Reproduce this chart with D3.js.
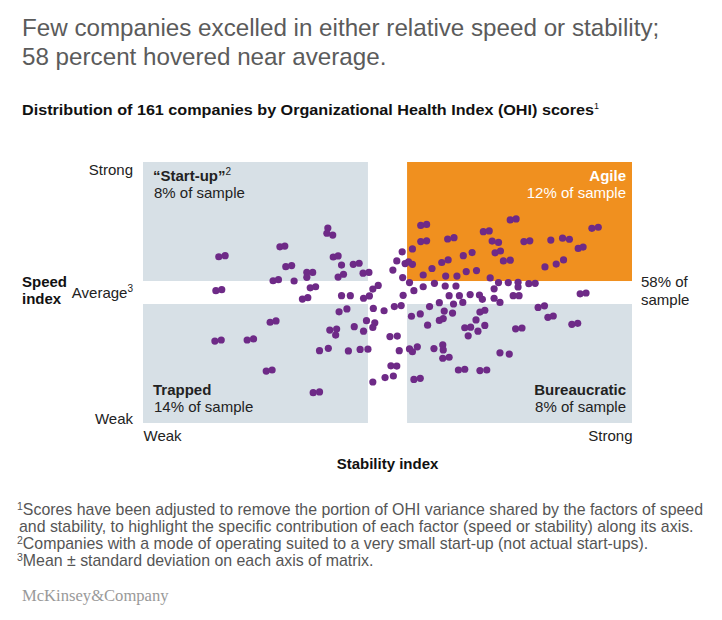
<!DOCTYPE html>
<html>
<head>
<meta charset="utf-8">
<script src="https://cdn.jsdelivr.net/npm/d3@7"></script>
<style>
  body { margin: 0; background: #fff; }
  svg { display: block; font-family: "Liberation Sans", Arial, sans-serif; }
</style>
</head>
<body>
<div id="chart"></div>
<script>
// Stability index (x) and speed index (y) per dot, 0-100 scale, 50 = average
var stability = [37.8,37.6,38.8,28.0,29.0,15.5,16.8,38.9,39.9,40.6,43.0,44.2,29.2,30.4,33.5,34.7,33.5,39.9,41.0,45.0,46.2,26.6,27.7,30.9,
  14.9,16.1,34.2,35.3,47.0,48.1,32.6,33.7,40.6,42.4,45.1,46.3,
  26.0,27.2,40.1,41.7,47.1,49.3,45.7,47.4,47.0,43.2,45.1,38.2,39.6,39.4,14.7,16.0,21.3,22.6,36.1,37.9,42.0,44.4,46.0,25.2,26.4,34.8,36.1,
  50.5,52.0,52.4,50.7,51.9,49.5,51.2,47.0,51.4,52.8,53.2,
  53.0,51.9,53.6,54.3,55.1,55.1,51.1,53.1,54.5,55.4,57.3,57.3,
  56.8,58.0,56.8,58.0,62.3,63.6,69.6,70.8,75.1,76.3,71.4,72.7,77.9,79.1,83.4,85.8,87.2,91.8,93.1,89.0,90.0,
  59.1,61.1,62.4,65.5,67.3,72.0,73.1,73.7,75.1,82.2,84.5,86.0,61.9,64.2,66.1,68.2,71.0,
  59.6,61.8,64.0,72.7,74.7,76.7,76.7,78.9,80.2,71.8,89.4,90.6,62.6,64.7,66.9,68.8,69.4,71.8,73.0,75.7,76.9,60.6,63.5,65.4,
  56.7,58.6,54.9,61.6,63.3,60.6,61.4,68.9,69.9,80.8,82.1,82.8,83.9,58.2,68.1,65.8,67.0,68.5,69.9,66.5,
  76.2,77.5,87.7,88.9,54.5,55.1,56.1,59.5,61.3,61.4,61.3,62.6,73.0,74.9,64.5,65.8,68.9,70.3,55.4,56.7];

var speed = [74.7,72.7,72.0,67.5,67.8,63.7,64.1,63.6,64.0,60.5,60.8,61.2,59.9,60.3,57.7,57.7,55.8,55.9,57.0,57.4,57.7,54.5,54.9,54.4,
  50.7,51.1,51.8,52.2,51.3,52.7,47.5,48.0,48.8,48.8,47.8,48.7,
  38.6,39.1,42.6,43.7,43.9,43.0,39.2,38.4,36.6,36.9,35.2,35.6,36.0,33.7,31.4,31.8,31.8,32.2,27.7,28.6,27.6,28.2,28.3,19.9,20.3,11.6,11.9,
  33.1,33.3,27.7,21.9,21.8,17.4,18.0,15.7,44.6,45.0,48.9,
  65.6,62.1,61.1,61.7,60.8,66.7,58.6,55.7,53.8,50.7,52.2,56.7,
  75.7,76.1,69.5,69.8,70.5,71.0,73.3,73.6,77.8,78.2,69.7,69.2,69.5,69.8,70.1,70.8,70.4,74.6,75.0,66.9,67.4,
  59.2,61.5,62.5,64.1,65.3,65.2,65.9,62.1,62.4,59.8,60.9,62.5,56.3,56.3,58.0,58.4,55.6,
  53.5,52.5,52.5,53.8,53.8,53.9,52.1,53.4,53.5,51.4,49.5,49.8,48.8,48.8,49.2,49.0,47.4,47.8,46.2,48.8,48.8,46.1,45.6,46.2,
  41.8,44.6,40.9,42.9,42.1,39.3,40.0,42.5,43.2,44.3,44.9,40.5,41.0,37.5,39.5,36.5,36.7,35.2,37.4,33.4,
  36.1,36.4,37.8,38.2,28.4,27.3,29.2,28.5,29.9,28.0,24.8,25.2,26.9,26.4,20.3,20.6,20.1,20.3,16.7,17.1];

// Quadrants: name, footnote mark, share, and extent on both axes
var quadrantNames  = ["\u201cStart-up\u201d", "Agile", "Trapped", "Bureaucratic"];
var quadrantNotes  = ["2", "", "", ""];
var quadrantShares = ["8% of sample", "12% of sample", "14% of sample", "8% of sample"];
var quadrantX      = [[0, 46], [54, 100], [0, 46], [54, 100]];
var quadrantY      = [[54.4, 100], [54.4, 100], [0, 45.6], [0, 45.6]];

var speedTicks     = [0, 50, 100];
var speedLabels    = ["Weak", "Average", "Strong"];
var stabilityTicks = [0, 100];
var stabilityLabels = ["Weak", "Strong"];

var footnotes = [
  ["1", "Scores have been adjusted to remove the portion of OHI variance shared by the factors of speed"],
  ["",  " and stability, to highlight the specific contribution of each factor (speed or stability) along its axis."],
  ["2", "Companies with a mode of operating suited to a very small start-up (not actual start-ups)."],
  ["3", "Mean \u00b1 standard deviation on each axis of matrix."]
];

var width = 722, height = 620;

var svg = d3.select("#chart").append("svg")
    .attr("width", width)
    .attr("height", height);

// Headline
var title = svg.append("text")
    .attr("x", 22).attr("y", 36)
    .style("font-size", "24.2px")
    .style("fill", "#5b5b5b");
title.append("tspan").attr("x", 22).text("Few companies excelled in either relative speed or stability;");
title.append("tspan").attr("x", 22).attr("dy", 29).text("58 percent hovered near average.");

var sub = svg.append("text")
    .attr("x", 22).attr("y", 115)
    .style("font-size", "15.5px")
    .style("font-weight", "bold")
    .style("fill", "#111");
sub.append("tspan")
    .attr("textLength", 572).attr("lengthAdjust", "spacingAndGlyphs")
    .text("Distribution of 161 companies by Organizational Health Index (OHI) scores");
sub.append("tspan").attr("dy", -6).style("font-size", "9px").style("font-weight", "normal").text("1");

// Scales
var x = d3.scaleLinear().domain([0, 100]).range([143, 632]);
var y = d3.scaleLinear().domain([0, 100]).range([423, 162]);

// Quadrant boxes
var quads = svg.append("g").attr("class", "quadrants");
quadrantNames.forEach(function(name, i) {
  var isAgile = name == "Agile";
  quads.append("rect")
    .attr("x", x(quadrantX[i][0]))
    .attr("y", y(quadrantY[i][1]))
    .attr("width", x(quadrantX[i][1]) - x(quadrantX[i][0]))
    .attr("height", y(quadrantY[i][0]) - y(quadrantY[i][1]))
    .style("fill", isAgile ? "#f0901f" : "#d7e0e6");
});

// Dots
svg.append("g").attr("class", "dots")
  .selectAll("circle")
  .data(stability)
  .enter()
  .append("circle")
    .attr("cx", function(d) { return x(d); })
    .attr("cy", function(d, i) { return y(speed[i]); })
    .attr("r", 3.6)
    .style("fill", "#6e2a87");

// Quadrant labels
quadrantNames.forEach(function(name, i) {
  var right = quadrantX[i][0] > 50,
      top = quadrantY[i][0] > 50,
      color = name == "Agile" ? "#fff" : "#222",
      lx = right ? x(quadrantX[i][1]) - 6 : x(quadrantX[i][0]) + 10,
      ly = top ? y(quadrantY[i][1]) + 19 : y(quadrantY[i][0]) - 28,
      anchor = right ? "end" : "start";
  var t = svg.append("text")
      .attr("x", lx).attr("y", ly)
      .attr("text-anchor", anchor)
      .style("font-size", "15px").style("font-weight", "bold")
      .style("fill", color)
      .text(name);
  if (quadrantNotes[i]) {
    t.append("tspan").attr("dy", -6).style("font-size", "10px").style("font-weight", "normal").text(quadrantNotes[i]);
  }
  svg.append("text")
    .attr("x", lx + (right ? 0 : 1)).attr("y", ly + 17)
    .attr("text-anchor", anchor)
    .style("font-size", "15px")
    .style("fill", color)
    .text(quadrantShares[i]);
});

// Speed axis (left)
var yAxis = svg.append("g")
    .attr("transform", "translate(" + (x(0) - 10) + ",0)")
    .call(d3.axisLeft(y).tickValues(speedTicks).tickSize(0).tickPadding(0)
      .tickFormat(function(d, i) { return speedLabels[i]; }));
yAxis.select(".domain").remove();
yAxis.selectAll("text")
    .style("font-family", "\"Liberation Sans\", Arial, sans-serif")
    .style("font-size", "15px")
    .style("fill", "#222")
    .attr("dy", function(d) { return d == 100 ? "0.85em" : d == 0 ? "0" : "0.35em"; });
yAxis.selectAll("text").filter(function(d) { return d == 50; })
  .append("tspan").attr("dy", -6).style("font-size", "10px").text("3");

// Stability axis (bottom)
var xAxis = svg.append("g")
    .attr("transform", "translate(0," + (y(0) + 7) + ")")
    .call(d3.axisBottom(x).tickValues(stabilityTicks).tickSize(0).tickPadding(0)
      .tickFormat(function(d, i) { return stabilityLabels[i]; }));
xAxis.select(".domain").remove();
xAxis.selectAll("text")
    .style("font-family", "\"Liberation Sans\", Arial, sans-serif")
    .style("font-size", "15px")
    .style("fill", "#222")
    .attr("text-anchor", function(d) { return d == 0 ? "start" : "end"; });

// Axis titles
var sp = svg.append("text").attr("x", 22).attr("y", 287)
    .style("font-size", "15px").style("font-weight", "bold").style("fill", "#111");
sp.append("tspan").attr("x", 22).text("Speed");
sp.append("tspan").attr("x", 22).attr("dy", 17).text("index");

svg.append("text")
    .attr("x", x(50)).attr("y", 469)
    .attr("text-anchor", "middle")
    .style("font-size", "15px").style("font-weight", "bold").style("fill", "#111")
    .text("Stability index");

var share = svg.append("text").attr("x", 641).attr("y", 287)
    .style("font-size", "15px").style("fill", "#222");
share.append("tspan").attr("x", 641).text("58% of");
share.append("tspan").attr("x", 641).attr("dy", 18).text("sample");

// Footnotes
footnotes.forEach(function(f, i) {
  var t = svg.append("text")
      .attr("x", 17).attr("y", 515 + i * 17)
      .style("font-size", "15.9px")
      .style("fill", "#555");
  if (f[0]) {
    t.append("tspan").attr("dy", -5).style("font-size", "10.5px").text(f[0]);
    t.append("tspan").attr("dy", 5).text(f[1]);
  } else {
    t.append("tspan").attr("x", 19).text(f[1]);
  }
});

svg.append("text")
    .attr("x", 22).attr("y", 601)
    .style("font-family", "\"Liberation Serif\", \"Times New Roman\", serif")
    .style("font-size", "16.6px")
    .style("fill", "#999")
    .text("McKinsey&Company");
</script>
</body>
</html>
